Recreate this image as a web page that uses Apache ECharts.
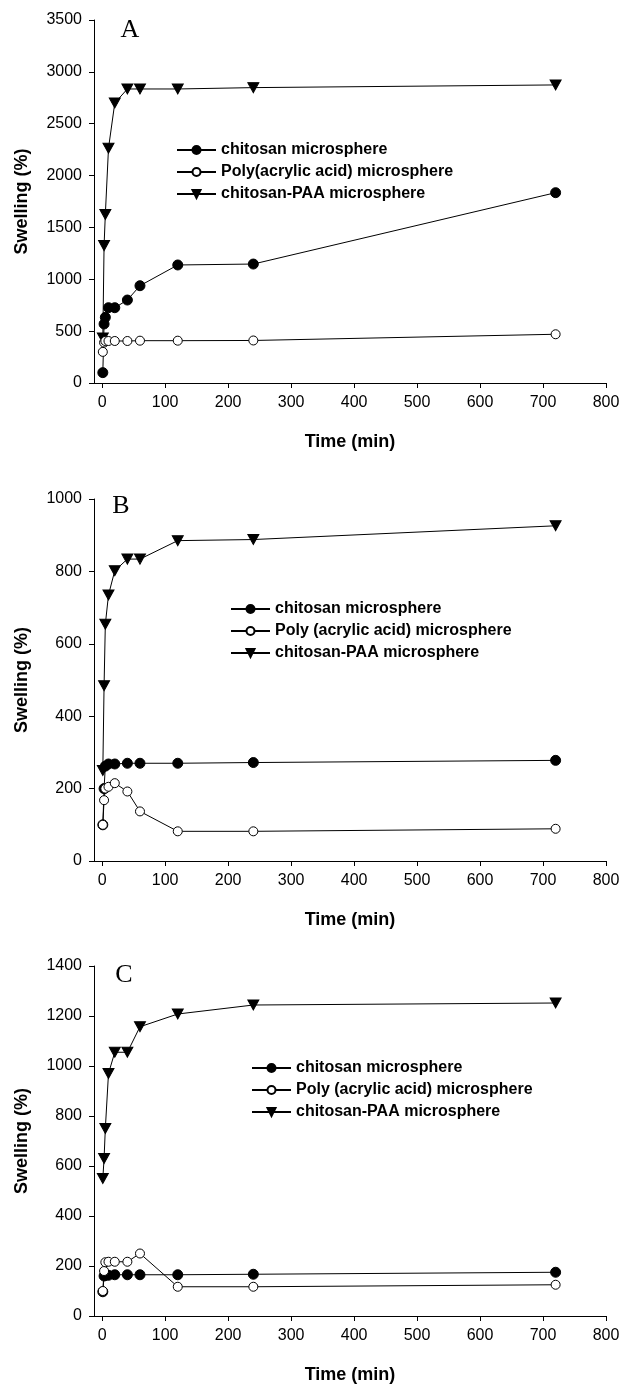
<!DOCTYPE html>
<html lang="en">

<head>
    <meta charset="UTF-8">
    <title>Swelling</title>
    <script src="https://cdn.jsdelivr.net/npm/echarts@6/dist/echarts.min.js"></script>
    <style>
        * {
            margin: 0px;
            padding: 0px;
        }

        body {
            background: #fff;
        }

        #chart {
            width: 641px;
            height: 1385px;
        }
    </style>
</head>

<body>
    <div id="chart"></div>

    <script type="text/javascript">
        // sampling times (min)
        var times = [1, 3, 5, 10, 20, 40, 60, 120, 240, 720];

        // panel A
        var chitosanA = [100, 569, 633, 726, 726, 800, 938, 1138, 1147, 1835];
        var paaA = [300, 390, 405, 405, 405, 405, 408, 408, 410, 470];
        var blendA = [434, 1325, 1625, 2263, 2700, 2835, 2835, 2835, 2848, 2874];

        // panel B
        var chitosanB = [100, 200, 262, 268, 268, 270, 270, 270, 272, 278];
        var paaB = [100, 168, 200, 205, 215, 192, 137, 82, 82, 89];
        var blendB = [250, 484, 654, 735, 802, 834, 834, 885, 888, 926];

        // panel C
        var chitosanC = [97, 160, 163, 163, 165, 165, 165, 165, 167, 175];
        var paaC = [100, 180, 215, 217, 217, 217, 250, 117, 117, 125];
        var blendC = [550, 630, 750, 970, 1055, 1055, 1157, 1208, 1244, 1252];

        var xTicks = [0, 100, 200, 300, 400, 500, 600, 700, 800];

        var names = ['chitosan microsphere', 'Poly(acrylic acid) microsphere', 'chitosan-PAA microsphere'];
        var names2 = ['chitosan microsphere', 'Poly (acrylic acid) microsphere', 'chitosan-PAA microsphere'];

        var font = '"Liberation Sans", Arial, sans-serif';
        var downTri = 'path://M0,0 L10,0 L5,9 Z';

        function pairs(vals) {
            return times.map(function (t, i) {
                return [t, vals[i]];
            });
        }

        // plain numbers, no thousands separator
        function plain(v) {
            return String(v);
        }

        function makeX(idx) {
            return {
                type: 'value',
                gridIndex: idx,
                min: -13,
                max: 800,
                name: 'Time (min)',
                nameLocation: 'middle',
                nameGap: 50,
                nameTextStyle: { fontFamily: font, fontSize: 18, fontWeight: 'bold', color: '#000' },
                splitLine: { show: false },
                axisLine: { show: true, onZero: false, lineStyle: { color: '#000', width: 1 } },
                axisTick: { show: true, length: 5, lineStyle: { color: '#000' }, customValues: xTicks },
                axisLabel: { fontFamily: font, fontSize: 16, color: '#000', margin: 12, customValues: xTicks, formatter: plain }
            };
        }

        function makeY(idx, max, step) {
            return {
                type: 'value',
                gridIndex: idx,
                min: 0,
                max: max,
                interval: step,
                name: 'Swelling (%)',
                nameLocation: 'middle',
                nameGap: 63,
                nameTextStyle: { fontFamily: font, fontSize: 18, fontWeight: 'bold', color: '#000' },
                splitLine: { show: false },
                axisLine: { show: true, onZero: false, lineStyle: { color: '#000', width: 1 } },
                axisTick: { show: true, length: 5, lineStyle: { color: '#000' } },
                axisLabel: { fontFamily: font, fontSize: 16, color: '#000', margin: 12, formatter: plain }
            };
        }

        function makeSeries(idx, nm, vals, kind) {
            var s = {
                type: 'line',
                name: nm,
                xAxisIndex: idx,
                yAxisIndex: idx,
                data: pairs(vals),
                symbolSize: 9,
                lineStyle: { color: '#000', width: 1 },
                itemStyle: { color: '#000', borderColor: '#000', borderWidth: 1 },
                z: 3
            };
            if (kind == 'open') {
                s.symbol = 'circle';
                s.itemStyle = { color: '#fff', borderColor: '#000', borderWidth: 1 };
                s.z = 4;
            } else if (kind == 'tri') {
                s.symbol = downTri;
                s.symbolSize = [11, 10];
            } else {
                s.symbol = 'circle';
                s.symbolSize = 10;
            }
            return s;
        }

        function makeLegend(idx, nmList, left, top) {
            return {
                orient: 'vertical',
                left: left,
                top: top,
                data: nmList,
                itemWidth: 39,
                itemHeight: 10,
                itemGap: 6,
                selectedMode: false,
                textStyle: { fontFamily: font, fontSize: 16, fontWeight: 'bold', color: '#000', lineHeight: 16 }
            };
        }

        var myChart = echarts.init(document.getElementById('chart'));

        var option = {
            animation: false,
            backgroundColor: '#fff',
            grid: [
                { left: 94, width: 512, top: 20, height: 363 },
                { left: 94, width: 512, top: 499, height: 362 },
                { left: 94, width: 512, top: 966, height: 350 }
            ],
            xAxis: [makeX(0), makeX(1), makeX(2)],
            yAxis: [makeY(0, 3500, 500), makeY(1, 1000, 200), makeY(2, 1400, 200)],
            legend: [
                makeLegend(0, names, 171, 137),
                makeLegend(1, names2, 225, 596),
                makeLegend(2, names2, 246, 1055)
            ],
            graphic: [
                { type: 'text', x: 130, y: 30, style: { text: 'A', font: '26px "Liberation Serif"', fill: '#000', textAlign: 'center', textVerticalAlign: 'middle' } },
                { type: 'text', x: 121, y: 506, style: { text: 'B', font: '26px "Liberation Serif"', fill: '#000', textAlign: 'center', textVerticalAlign: 'middle' } },
                { type: 'text', x: 124, y: 975, style: { text: 'C', font: '26px "Liberation Serif"', fill: '#000', textAlign: 'center', textVerticalAlign: 'middle' } }
            ],
            series: [
                makeSeries(0, names[0], chitosanA, 'fill'),
                makeSeries(0, names[1], paaA, 'open'),
                makeSeries(0, names[2], blendA, 'tri'),
                makeSeries(1, names2[0], chitosanB, 'fill'),
                makeSeries(1, names2[1], paaB, 'open'),
                makeSeries(1, names2[2], blendB, 'tri'),
                makeSeries(2, names2[0], chitosanC, 'fill'),
                makeSeries(2, names2[1], paaC, 'open'),
                makeSeries(2, names2[2], blendC, 'tri')
            ]
        };

        myChart.setOption(option);
    </script>
</body>

</html>
